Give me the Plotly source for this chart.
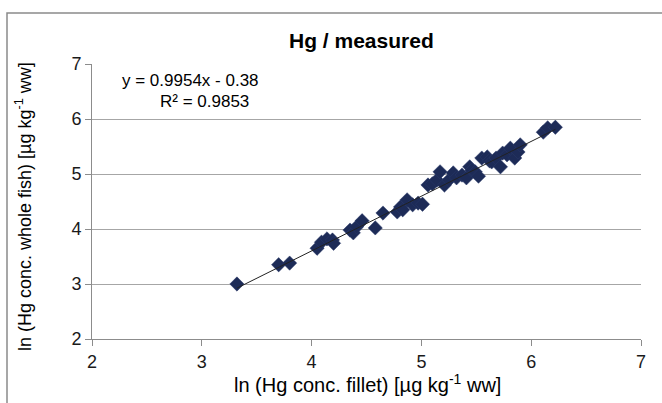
import plotly.graph_objects as go

fillet_ln = [3.32, 3.70, 3.80, 4.05, 4.09, 4.14, 4.19, 4.20, 4.35, 4.38, 4.41, 4.46, 4.58,
             4.65, 4.78, 4.81, 4.83, 4.87, 4.92, 4.97, 5.01, 5.06, 5.10, 5.14, 5.17, 5.21,
             5.25, 5.29, 5.32, 5.37, 5.41, 5.44, 5.46, 5.49, 5.52, 5.55, 5.60, 5.62, 5.64,
             5.68, 5.72, 5.74, 5.78, 5.81, 5.85, 5.88, 5.90, 6.11, 6.15, 6.22]
whole_ln = [3.00, 3.35, 3.38, 3.65, 3.76, 3.82, 3.80, 3.74, 3.98, 3.93, 4.04, 4.15, 4.02,
            4.29, 4.31, 4.40, 4.35, 4.53, 4.44, 4.47, 4.45, 4.80, 4.82, 4.89, 5.04, 4.80,
            4.89, 5.02, 4.93, 4.98, 4.93, 5.13, 5.07, 5.04, 4.96, 5.29, 5.31, 5.24, 5.22,
            5.29, 5.13, 5.38, 5.35, 5.47, 5.29, 5.40, 5.53, 5.76, 5.84, 5.85]

slope = 0.9954
intercept = -0.38
eq_text = "y = 0.9954x - 0.38"
r2_text = "R² = 0.9853"
title_text = "Hg / measured"
x_title = "ln (Hg conc. fillet) [µg kg<sup>-1</sup> ww]"
y_title = "ln (Hg conc. whole fish) [µg kg<sup>-1</sup> ww]"
tick_vals = [2, 3, 4, 5, 6, 7]

xmin, xmax = min(fillet_ln), max(fillet_ln)
trend_x = [xmin, xmax]
trend_y = [slope * v + intercept for v in trend_x]

fig = go.Figure()
fig.add_trace(go.Scatter(
    x=fillet_ln, y=whole_ln, mode="markers",
    marker=dict(symbol="diamond", size=11, color="#1d2b57",
                line=dict(color="#2a3a6a", width=0.5)),
    showlegend=False))
fig.add_trace(go.Scatter(
    x=trend_x, y=trend_y, mode="lines",
    line=dict(color="#222222", width=1), showlegend=False))

font = "Liberation Sans, Arial, sans-serif"
L, R, T, B = 92, 21, 64, 64
W, H = 662, 403
pw, ph = W - L - R, H - T - B

def px_x(p):
    return (p - L) / pw

def px_y(p):
    return (H - B - p) / ph

fig.update_layout(
    width=W, height=H,
    margin=dict(l=L, r=R, t=T, b=B),
    paper_bgcolor="white", plot_bgcolor="white",
    font=dict(family=font, color="#000000"),
    xaxis=dict(range=[2, 7], tickvals=tick_vals, showgrid=False, zeroline=False,
               showline=True, linecolor="#8c8c8c", linewidth=1,
               ticks="outside", ticklen=6, tickcolor="#8c8c8c",
               tickfont=dict(size=18, family=font, color="#1a1a1a")),
    yaxis=dict(range=[2, 7], tickvals=tick_vals, showgrid=True, gridcolor="#a6a6a6",
               gridwidth=1, zeroline=False, showline=True, linecolor="#8c8c8c",
               linewidth=1, ticks="outside", ticklen=6, tickcolor="#8c8c8c",
               tickfont=dict(size=18, family=font, color="#1a1a1a")),
    shapes=[dict(type="rect", xref="paper", yref="paper",
                 x0=px_x(7), x1=px_x(700), y0=px_y(440), y1=px_y(13),
                 line=dict(color="#8a8a8a", width=1.5), layer="below")],
    annotations=[
        dict(text="<b>" + title_text + "</b>", xref="paper", yref="paper",
             x=px_x(361), y=px_y(40), xanchor="center", yanchor="middle",
             showarrow=False, font=dict(size=21, family=font)),
        dict(text=eq_text, xref="paper", yref="paper", x=px_x(120), y=px_y(80),
             xanchor="left", yanchor="middle", showarrow=False,
             font=dict(size=17, family=font)),
        dict(text=r2_text, xref="paper", yref="paper", x=px_x(158), y=px_y(101),
             xanchor="left", yanchor="middle", showarrow=False,
             font=dict(size=17, family=font)),
        dict(text=x_title, xref="paper", yref="paper", x=px_x(367), y=px_y(383),
             xanchor="center", yanchor="middle", showarrow=False,
             font=dict(size=20, family=font)),
        dict(text=y_title, xref="paper", yref="paper", x=px_x(23), y=px_y(207),
             xanchor="center", yanchor="middle", showarrow=False, textangle=-90,
             font=dict(size=18, family=font)),
    ],
)

fig.write_html("out.html", config={"displayModeBar": False},
               post_script="document.body.style.margin='0';")
